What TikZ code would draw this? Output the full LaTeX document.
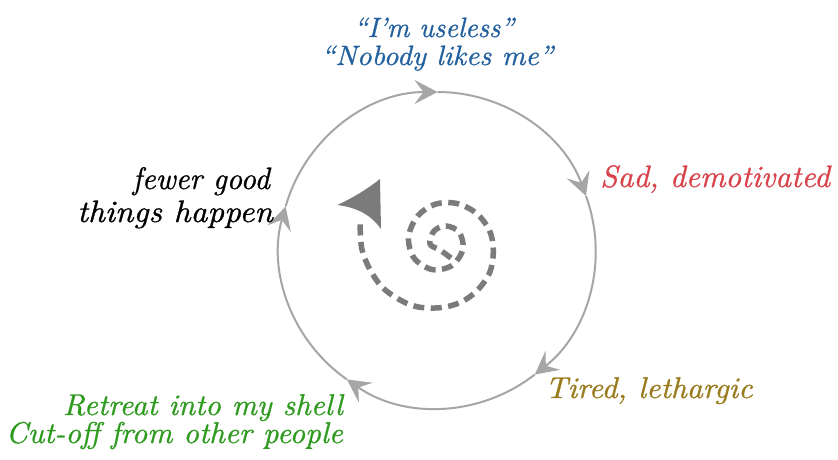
\documentclass[tikz,border=0pt]{standalone}
\usepackage{fontspec}
\usepackage{graphicx}
\newfontface\handit{lmroman10-italic.otf}[FakeBold=0.8]
\usetikzlibrary{arrows.meta,calc}
\definecolor{ringgray}{HTML}{A6A6A6}
\definecolor{spiralgray}{HTML}{7B7B7B}
\definecolor{tblue}{HTML}{22609E}
\definecolor{tred}{HTML}{D9434B}
\definecolor{tolive}{HTML}{9A7B1E}
\definecolor{tgreen}{HTML}{2E9B1F}
\newcommand{\hx}[2]{\scalebox{#1}[1]{#2}}
\begin{document}
\begin{tikzpicture}[x=1pt,y=1pt,
  ring/.style={draw=ringgray, line width=2pt, -{Stealth[length=23pt,width=24pt,inset=9pt]}},
  spiralline/.style={draw=spiralgray, line width=5.5pt, dash pattern=on 11pt off 6.5pt},
  lab/.style={inner sep=0pt, font=\fontsize{#1}{#1}\selectfont\handit}]
\useasboundingbox[fill=white] (0,0) rectangle (838,459);
\coordinate (c) at (437.5,209);
\coordinate (ta) at ($(c)+(90:158)$);
\coordinate (tb) at ($(c)+(20:158)$);
\coordinate (tc) at ($(c)+(-52:158)$);
\coordinate (td) at ($(c)+(-125:158)$);
\coordinate (te) at ($(c)+(164:158)$);
\draw[ring] (te) arc[start angle=164, end angle=90, radius=158pt];
\draw[ring] (ta) arc[start angle=90, end angle=20, radius=158pt];
\draw[ring] (tb) arc[start angle=20, end angle=-52, radius=158pt];
\draw[ring] (tc) arc[start angle=-52, end angle=-125, radius=158pt];
\draw[ring] (td) arc[start angle=-125, end angle=-196, radius=158pt];
% spiral
\draw[spiralline] plot[smooth, tension=0.55] coordinates {
 (451,201) (440,209) (430,215) (434,228) (446,233) (459,227) (463,210)
 (452,193.5) (432,189.5) (414,201) (408.5,222) (417.7,243) (435,254.7) (456,255.7)
 (475.7,246.3) (489.3,229) (493.3,209) (490,187.3) (477.7,169) (460.7,156.7)
 (440,151.3) (416.7,152.3) (398.3,160) (381.7,172.3) (369.3,190.7) (361.7,210.7) (360,237)};
\fill[spiralgray] (337.3,254) .. controls (355,262) and (370,272) .. (380,280)
  -- (381,230) .. controls (374,240) and (362,251) .. (337.3,254) -- cycle;
% labels
\node[lab=28, text=tblue, anchor=base] (top1) at (434,422) {\hx{0.985}{“I’m useless”}};
\node[lab=28, text=tblue, anchor=base] (top2) at (437,394) {\hx{1.037}{“Nobody likes me”}};
\node[lab=31, text=tred, anchor=base west] (sad) at (600,272) {\hx{1.0}{Sad, demotivated}};
\node[lab=30, text=tolive, anchor=base west] (tired) at (545,61) {\hx{1.04}{Tired, lethargic}};
\node[lab=31, anchor=base east] (few1) at (270,270) {\hx{0.97}{fewer good}};
\node[lab=31, anchor=base east] (few2) at (273,237) {\hx{1.06}{things happen}};
\node[lab=30, text=tgreen, anchor=base east] (ret1) at (343,44) {\hx{1.019}{Retreat into my shell}};
\node[lab=30, text=tgreen, anchor=base east] (ret2) at (343,16) {\hx{1.022}{Cut-off from other people}};
\end{tikzpicture}
\end{document}
